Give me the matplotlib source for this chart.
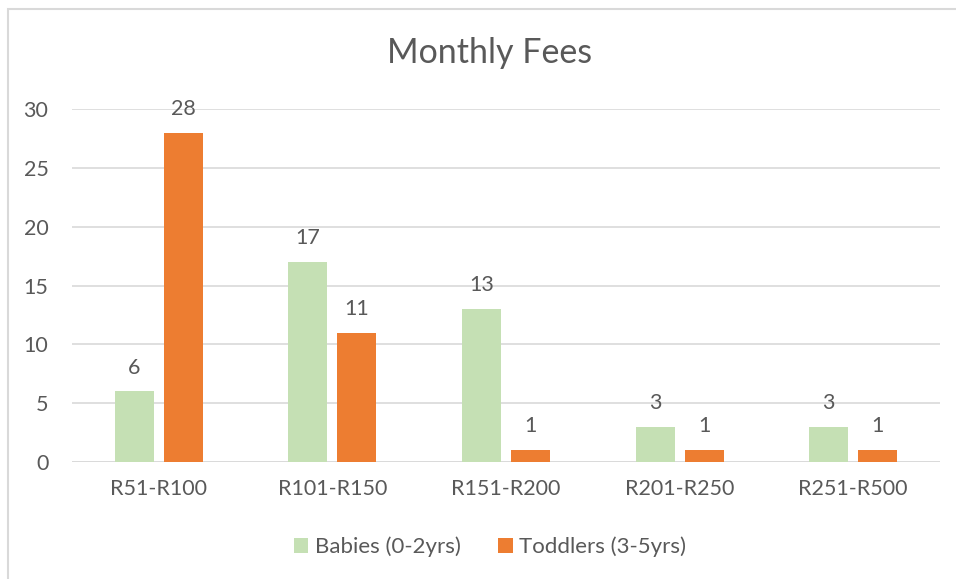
import matplotlib
matplotlib.use("Agg")
import matplotlib.pyplot as plt
import numpy as np
from matplotlib.patches import Rectangle

plt.rcParams['font.family'] = ['Lato', 'DejaVu Sans']

categories = ['R51-R100', 'R101-R150', 'R151-R200', 'R201-R250', 'R251-R500']
babies = [6, 17, 13, 3, 3]
toddlers = [28, 11, 1, 1, 1]
series_names = ['Babies (0-2yrs)', 'Toddlers (3-5yrs)']

green = '#C5E0B4'
orange = '#ED7D31'
text_col = '#595959'
grid_col = '#D9D9D9'
fs = 15.5

fig = plt.figure(figsize=(9.56, 5.79), dpi=100)
fig.patches.append(Rectangle((8 / 956, -0.1), 1.2, 1 - 9 / 579 + 0.1,
                             transform=fig.transFigure, fill=False,
                             edgecolor=grid_col, linewidth=1.5))
ax = fig.add_axes([72 / 956, 1 - 462 / 579, 868 / 956, 353 / 579])

x = np.arange(len(categories))
w = 0.225
gap = 0.058
off = (w + gap) / 2
b1 = ax.bar(x - off, babies, w, color=green, label=series_names[0], zorder=3)
b2 = ax.bar(x + off, toddlers, w, color=orange, label=series_names[1], zorder=3)

for bars in (b1, b2):
    ax.bar_label(bars, padding=10, fontsize=fs, color=text_col)

ax.set_xlim(-0.5, len(categories) - 0.5)
ax.set_ylim(0, 30)
ax.set_yticks(range(0, 31, 5))
ax.set_xticks(x)
ax.set_xticklabels(categories)
ax.tick_params(axis='both', length=0, labelsize=fs, colors=text_col)
ax.tick_params(axis='y', pad=17)
ax.tick_params(axis='x', pad=12)
ax.grid(axis='y', color=grid_col, linewidth=1.2, zorder=0)
for s in ax.spines.values():
    s.set_visible(False)
ax.axhline(0, color=grid_col, linewidth=1.2, zorder=2)

fig.text(490 / 956, 1 - 53 / 579, 'Monthly Fees', ha='center', va='center',
         fontsize=24.5, color=text_col)

fig.legend(handles=[b1, b2], loc='center', bbox_to_anchor=(490 / 956, 1 - 547 / 579),
           ncol=2, frameon=False, fontsize=fs + 0.5, labelcolor=text_col,
           handlelength=0.65, handleheight=0.65, handletextpad=0.3, columnspacing=1.7)

fig.savefig('out.png', dpi=100)
